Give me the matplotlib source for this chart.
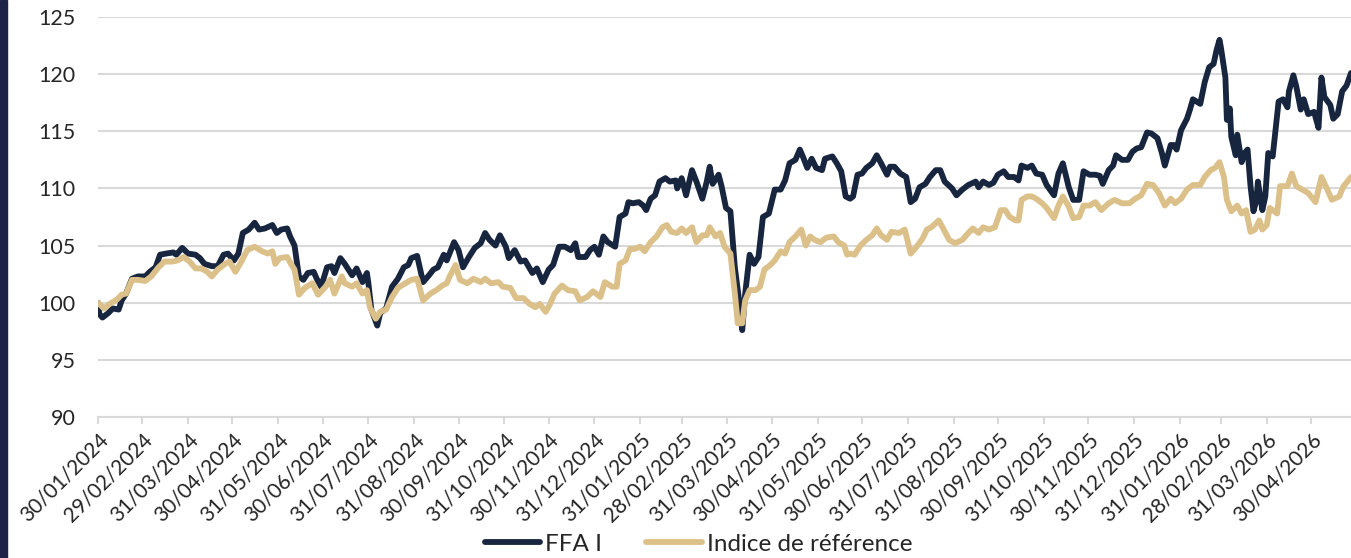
#!/usr/bin/env python3
"""FFA I vs indice de référence, base 100 au 30/01/2024 -> out.png"""
import matplotlib
matplotlib.use("Agg")
import matplotlib.pyplot as plt
from matplotlib.patches import Rectangle
import pandas as pd

START = pd.Timestamp("2024-01-30")
END_DAY = 848

# --- data: days since START, base-100 values ----------------------------------
ffa_days = [0, 1, 3, 7, 10, 14, 16, 19, 23, 27, 32, 35, 39, 42, 46, 51, 53, 57, 61, 66,
            69, 72, 77, 81, 85, 88, 92, 95, 98, 102, 106, 109, 113, 118, 121, 124, 128, 130, 133, 136,
            139, 142, 146, 148, 151, 155, 158, 160, 164, 167,
            172, 175, 179, 182, 183, 185, 189, 191, 195, 199, 203, 207, 210, 212, 216, 220, 224, 227, 230, 234,
            236, 241, 244, 247, 251, 255, 259, 262, 265, 269, 272, 276, 278, 282, 286, 289, 294, 297, 301, 305,
            308, 312, 316, 320, 323, 325, 330, 333, 336,
            339, 342, 345, 350, 353, 357, 359, 362, 366, 369, 371, 374, 377, 380, 384, 387, 391, 392, 395, 398,
            402, 405, 409, 412, 414, 416, 420, 422, 425, 428, 431, 434, 436, 438, 441, 444, 447, 450, 454, 458,
            462, 465, 468, 472, 475, 477, 480, 483, 486, 490, 492, 497, 500, 503, 506,
            509, 511, 514, 517, 520, 524, 527, 530, 534, 536, 539, 543, 547, 550, 553, 556, 560, 563, 567, 570,
            573, 578, 581, 585, 589, 594, 596, 599, 603, 606, 609, 613, 616, 620, 623, 625, 629, 632, 635, 639,
            642, 647, 650, 653, 657, 660, 664, 667, 671, 675,
            678, 680, 684, 687, 689, 693, 697, 700, 703, 706, 710, 713, 717, 720, 722, 726, 728, 730, 733, 737,
            739, 741, 746, 749, 752, 755, 757, 759, 760, 763, 764, 766, 767, 770, 771, 774, 776, 778, 780, 782,
            784, 785, 788, 790, 792, 795, 799, 802, 805, 806, 809, 811, 814, 816, 819, 823, 826, 828, 830, 834,
            836, 839, 842, 845, 848]
ffa_vals = [100.0, 99.0, 98.7, 99.1, 99.5, 99.4, 100.2, 100.8, 102.1, 102.3, 102.3, 102.7, 103.1, 104.2, 104.3, 104.4, 104.2, 104.8, 104.3, 104.2,
            103.9, 103.4, 103.2, 103.2, 104.2, 104.3, 103.7, 104.3, 106.1, 106.4, 107.0, 106.4, 106.5, 106.8, 106.1, 106.4, 106.5, 105.8, 105.0, 102.3,
            102.0, 102.6, 102.7, 102.1, 101.4, 103.1, 103.2, 102.6, 103.9, 103.4,
            102.4, 103.0, 101.8, 102.6, 101.7, 99.4, 98.0, 99.1, 99.5, 101.4, 102.1, 103.1, 103.3, 103.9, 104.1, 101.8, 102.4, 102.9, 103.1, 104.2,
            103.7, 105.3, 104.6, 103.1, 104.0, 104.8, 105.2, 106.1, 105.5, 105.0, 105.9, 104.9, 103.9, 104.6, 103.6, 103.7, 102.6, 103.0, 101.8, 102.9,
            103.3, 104.9, 104.9, 104.6, 105.2, 104.0, 104.0, 104.6, 104.9,
            104.2, 105.8, 105.3, 104.9, 107.5, 107.8, 108.8, 108.7, 108.8, 108.5, 108.1, 109.1, 109.4, 110.6, 110.9, 110.6, 110.7, 110.0, 110.9, 109.4,
            111.6, 110.6, 109.1, 110.6, 111.9, 110.4, 111.2, 110.2, 108.3, 108.0, 103.1, 100.1, 97.6, 100.8, 104.2, 103.4, 104.0, 107.5, 107.8, 109.9,
            109.9, 110.7, 112.2, 112.5, 113.4, 112.8, 111.8, 112.6, 111.8, 111.6, 112.6, 112.8, 112.2, 111.5, 109.3,
            109.1, 109.3, 111.2, 111.3, 111.8, 112.2, 112.9, 112.2, 111.2, 111.9, 111.9, 111.3, 111.0, 108.8, 109.1, 110.1, 110.4, 111.0, 111.6, 111.6,
            110.6, 110.0, 109.4, 109.9, 110.3, 110.6, 110.1, 110.6, 110.3, 110.5, 111.2, 111.5, 111.0, 111.0, 110.7, 112.0, 111.8, 112.0, 111.3, 111.2,
            110.3, 109.4, 111.3, 112.2, 110.1, 109.0, 109.0, 111.5, 111.2, 111.2,
            111.1, 110.4, 111.6, 112.0, 112.9, 112.5, 112.5, 113.2, 113.5, 113.6, 114.9, 114.8, 114.4, 113.1, 112.0, 113.8, 113.8, 113.4, 115.1, 116.1,
            116.9, 117.8, 117.4, 119.3, 120.6, 120.9, 122.1, 123.0, 122.3, 119.7, 116.0, 117.0, 114.5, 112.9, 114.7, 112.3, 113.1, 113.4, 110.2, 108.0,
            109.0, 110.6, 108.1, 109.3, 113.1, 112.8, 117.6, 117.8, 117.1, 118.5, 119.9, 118.9, 116.9, 117.8, 116.5, 116.7, 115.3, 119.7, 118.0, 117.3,
            116.1, 116.5, 118.5, 119.0, 120.1]

idx_days = [0, 4, 8, 13, 16, 19, 23, 27, 32, 36, 41, 45, 50, 54, 58, 62, 66, 70, 74, 77,
            81, 86, 89, 93, 97, 101, 106, 111, 115, 118, 120, 123, 128, 131, 133, 136, 140, 145, 149, 154,
            157, 160, 165,
            167, 172, 175, 179, 182, 184, 188, 191, 195, 199, 203, 208, 212, 216, 220, 225, 229, 233, 236, 238,
            242, 245, 250, 254, 259, 262, 266, 271, 274, 279, 283, 288, 292, 296, 299, 303, 306, 309, 314, 318,
            323, 326, 331, 335,
            340, 343, 348, 351, 353, 357, 360, 363, 367, 370, 374, 378, 382, 385, 388, 392, 395, 398, 402, 405,
            409, 412, 414, 418, 421, 424, 428, 431, 433, 436, 438, 441, 445, 448, 451, 455, 458, 462, 465, 468,
            472, 476, 479, 482, 485, 489, 493, 498, 501, 505, 507,
            509, 512, 516, 520, 524, 527, 530, 534, 537, 542, 546, 550, 554, 558, 561, 564, 569, 572, 576, 580,
            585, 589, 592, 596, 599, 603, 607, 611, 614, 617, 621, 623, 625, 629, 632, 635, 639, 642, 647, 650,
            653, 657, 660, 664, 667, 671, 675,
            679, 684, 688, 693, 698, 702, 706, 710, 714, 718, 722, 726, 729, 733, 737, 741, 746, 749, 753, 756,
            759, 762, 764, 767, 771, 774, 777, 780, 783, 786, 788, 791, 793, 798, 800, 805, 808, 811, 815, 819,
            824, 828, 832, 835, 840, 843, 848]
idx_vals = [100.0, 99.5, 99.9, 100.3, 100.7, 100.8, 102.0, 102.0, 101.9, 102.3, 103.1, 103.6, 103.6, 103.7, 104.0, 103.6, 103.0, 103.0, 102.7, 102.3,
            102.9, 103.4, 103.6, 102.7, 103.6, 104.6, 104.9, 104.5, 104.3, 104.5, 103.4, 103.9, 104.0, 103.3, 102.9, 100.7, 101.3, 101.7, 100.7, 101.4,
            102.0, 100.8, 102.3,
            101.7, 101.4, 101.7, 100.8, 101.1, 99.6, 98.6, 99.2, 99.4, 100.5, 101.3, 101.7, 102.0, 102.1, 100.2, 100.8, 101.1, 101.5, 101.7, 102.3,
            103.3, 102.0, 101.7, 102.1, 101.8, 102.1, 101.7, 101.8, 101.4, 101.3, 100.4, 100.4, 99.9, 99.6, 99.9, 99.2, 99.9, 100.8, 101.5, 101.1,
            101.0, 100.2, 100.5, 101.0,
            100.5, 101.8, 101.4, 101.4, 103.4, 103.7, 104.7, 104.7, 104.9, 104.5, 105.3, 105.8, 106.6, 106.8, 106.2, 106.1, 106.5, 106.1, 106.6, 105.3,
            105.9, 105.9, 106.6, 105.8, 106.1, 104.9, 104.3, 100.8, 98.2, 98.2, 100.2, 101.1, 101.1, 101.4, 102.9, 103.3, 103.7, 104.5, 104.3, 105.3,
            105.8, 106.4, 105.0, 105.8, 105.5, 105.3, 105.7, 105.8, 105.3, 105.0, 104.2,
            104.3, 104.2, 105.0, 105.5, 105.9, 106.5, 105.9, 105.5, 106.2, 106.1, 106.4, 104.3, 104.9, 105.6, 106.4, 106.6, 107.2, 106.5, 105.5, 105.2,
            105.5, 106.1, 106.5, 106.1, 106.6, 106.4, 106.6, 108.1, 108.1, 107.5, 107.2, 107.2, 109.0, 109.3, 109.3, 109.1, 108.7, 108.3, 107.4, 108.5,
            109.3, 108.4, 107.4, 107.5, 108.5, 108.5, 108.8,
            108.1, 108.7, 109.0, 108.7, 108.7, 109.1, 109.4, 110.4, 110.3, 109.6, 108.5, 109.1, 108.7, 109.1, 109.9, 110.3, 110.3, 111.0, 111.6, 111.8,
            112.3, 111.0, 109.0, 108.0, 108.5, 107.8, 108.1, 106.2, 106.4, 107.2, 106.4, 106.8, 108.3, 107.8, 110.2, 110.2, 111.3, 110.2, 109.9, 109.6,
            108.8, 111.0, 109.9, 109.0, 109.3, 110.2, 111.0]

assert len(ffa_days) == len(ffa_vals) and len(idx_days) == len(idx_vals)

ffa_dates = START + pd.to_timedelta(ffa_days, unit="D")
idx_dates = START + pd.to_timedelta(idx_days, unit="D")
# ticks: start date, then every month end
tick_dates = [START] + list(pd.date_range("2024-02-29", "2026-04-30", freq="ME"))

NAVY = "#17253f"
BEIGE = "#dcc089"
GRID = "#d9d9d9"
TXT = "#262626"
FONT = ["Lato", "DejaVu Sans"]

plt.rcParams["font.family"] = FONT

fig = plt.figure(figsize=(13.51, 5.58), dpi=100)
ax = fig.add_axes([98 / 1351, 1 - 417 / 558, 1 - 98 / 1351, 400 / 558])
fig.patches.append(Rectangle((0, 0), 7 / 1351, 1, transform=fig.transFigure,
                             color="#1e2448", zorder=0))

ax.plot(ffa_dates, ffa_vals, color=NAVY, lw=4.2, solid_joinstyle="round",
        solid_capstyle="round", label="FFA I", zorder=3)
ax.plot(idx_dates, idx_vals, color=BEIGE, lw=4.2, solid_joinstyle="round",
        solid_capstyle="round", label="Indice de référence", zorder=4)

ax.set_ylim(90, 125)
ax.set_yticks(range(90, 126, 5))
ax.set_xlim(START, START + pd.Timedelta(days=END_DAY))
ax.set_xticks(tick_dates)
ax.set_xticklabels([d.strftime("%d/%m/%Y") for d in tick_dates])
ax.grid(axis="y", color=GRID, lw=1.5)
ax.set_axisbelow(True)
for s in ("top", "right", "left"):
    ax.spines[s].set_visible(False)
ax.spines["bottom"].set_color(GRID)
ax.spines["bottom"].set_linewidth(1.5)
ax.tick_params(axis="y", length=0, pad=16, labelsize=15.5, labelcolor=TXT)
ax.tick_params(axis="x", length=5, width=1.5, color=GRID, pad=4, labelsize=15, labelcolor=TXT)
for lab in ax.get_xticklabels():
    lab.set_rotation(45)
    lab.set_ha("right")
    lab.set_va("top")
    lab.set_rotation_mode("anchor")

leg = ax.legend(loc="lower center", bbox_to_anchor=(0.517, -0.033), bbox_transform=fig.transFigure,
                ncol=2, frameon=False, fontsize=17.5, handlelength=2.3, handletextpad=0.2,
                columnspacing=1.8, labelcolor=TXT)
for h in leg.get_lines():
    h.set_linewidth(4.2)

fig.savefig("out.png", dpi=100)
